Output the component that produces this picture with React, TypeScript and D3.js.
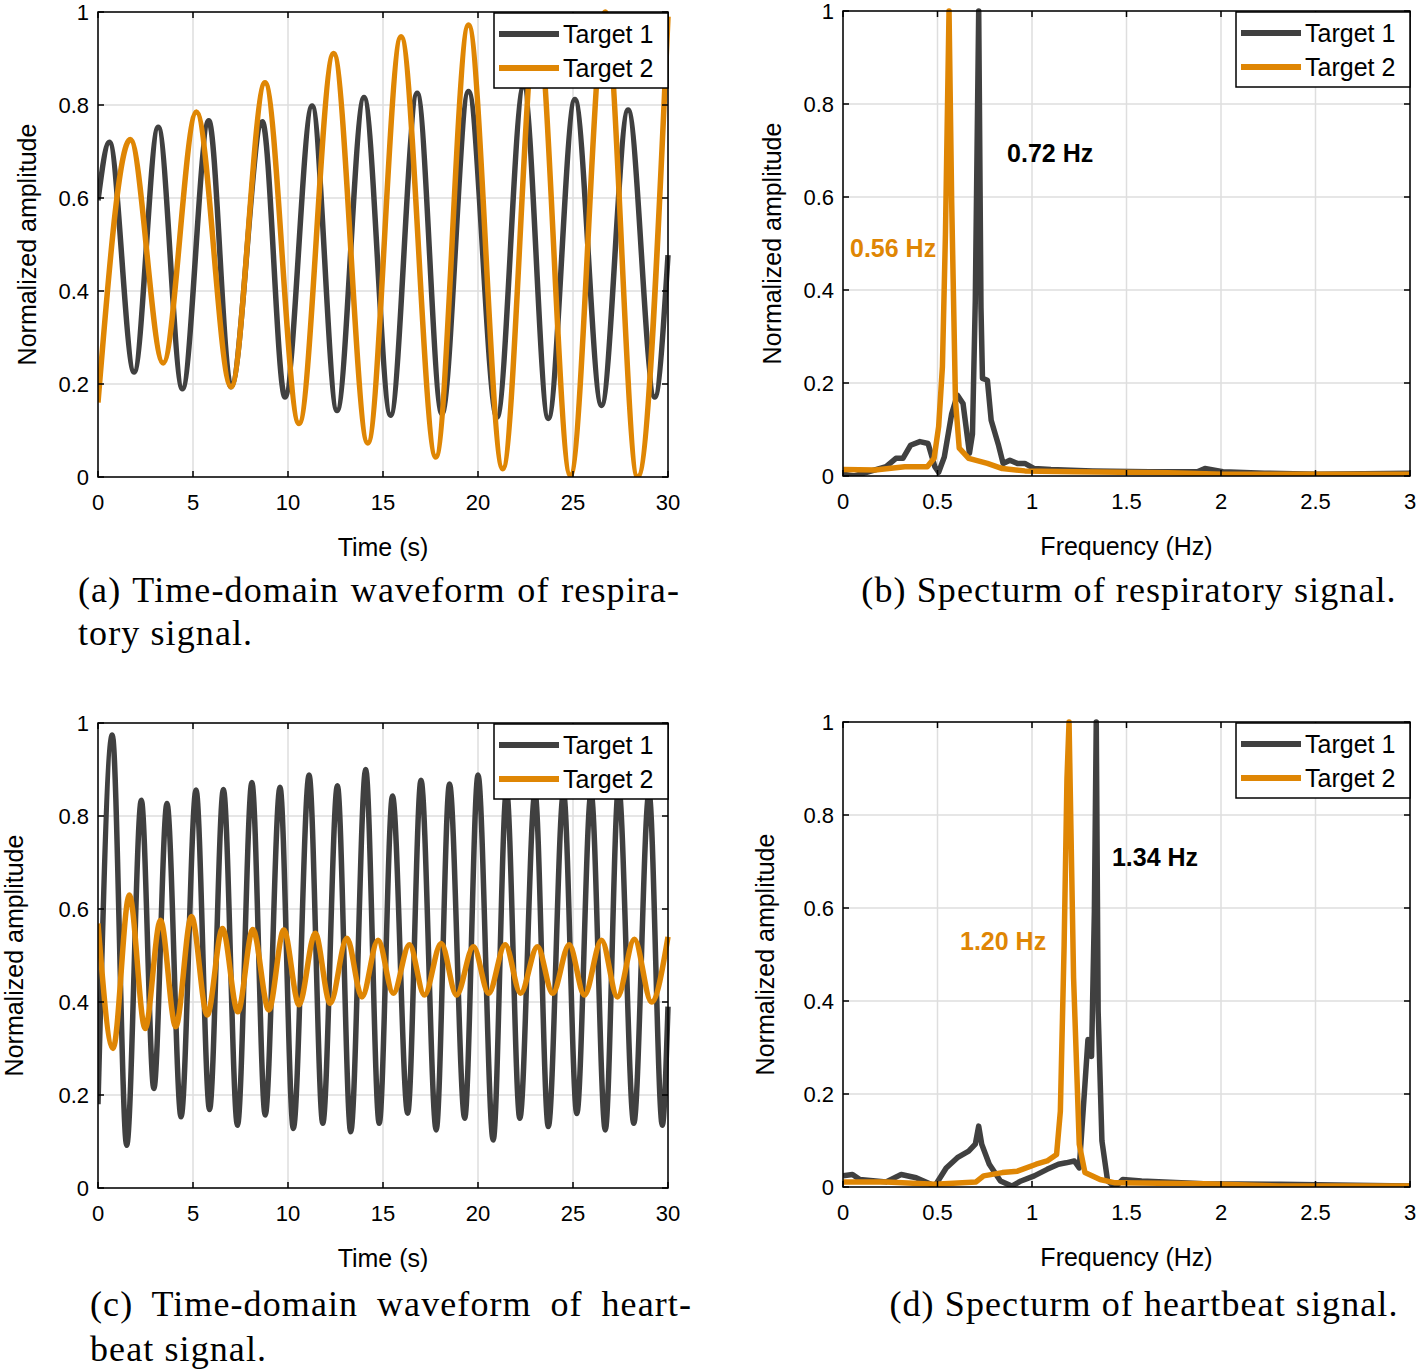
import * as d3 from "d3";
import { useLayoutEffect, useRef } from "react";

const W = 1425;
const H = 1372;

const seriesNames = ["Target 1", "Target 2"];
const seriesColors = ["#404040", "#df8604"];

const timeTicks = [0, 5, 10, 15, 20, 25, 30];
const freqTicks = [0, 0.5, 1, 1.5, 2, 2.5, 3];
const ampTicks = [0, 0.2, 0.4, 0.6, 0.8, 1];

// respiratory waveform, [time (s), amplitude] read at the turning points
const respWave1 = [
  [0, 0.595], [0.6, 0.72], [1.9, 0.226], [3.17, 0.752], [4.44, 0.19], [5.83, 0.766],
  [7.0, 0.194], [8.65, 0.764], [9.84, 0.172], [11.27, 0.798], [12.58, 0.143], [14.0, 0.816],
  [15.4, 0.133], [16.8, 0.825], [18.1, 0.136], [19.5, 0.829], [21.0, 0.129], [22.4, 0.84],
  [23.7, 0.126], [25.1, 0.812], [26.5, 0.154], [27.9, 0.789], [29.3, 0.172], [30, 0.477],
];
const respWave2 = [
  [0, 0.16], [1.7, 0.726], [3.43, 0.245], [5.18, 0.785], [7.0, 0.194], [8.79, 0.848],
  [10.58, 0.115], [12.4, 0.911], [14.2, 0.073], [15.95, 0.947], [17.78, 0.043], [19.5, 0.972],
  [21.3, 0.018], [23.1, 0.99], [24.86, 0.004], [26.7, 1.0], [28.4, 0.0], [30, 0.99],
];

// respiratory spectrum, [frequency (Hz), amplitude]
const respSpec1 = [
  [0, 0.004], [0.06, 0.0], [0.228, 0.02], [0.28, 0.038], [0.317, 0.038], [0.357, 0.066],
  [0.407, 0.074], [0.45, 0.07], [0.486, 0.02], [0.506, 0.008], [0.536, 0.041], [0.575, 0.134],
  [0.605, 0.174], [0.635, 0.156], [0.669, 0.049], [0.685, 0.09], [0.7, 0.378], [0.718, 1.0],
  [0.73, 0.363], [0.738, 0.21], [0.764, 0.206], [0.784, 0.12], [0.823, 0.066], [0.847, 0.027],
  [0.883, 0.034], [0.923, 0.027], [0.962, 0.027], [1.012, 0.016], [1.1, 0.014], [1.32, 0.011],
  [1.62, 0.009], [1.875, 0.009], [1.915, 0.016], [2.01, 0.009], [2.23, 0.006], [2.51, 0.004],
  [3.0, 0.006],
];
const respSpec2 = [
  [0, 0.014], [0.169, 0.013], [0.327, 0.02], [0.446, 0.02], [0.482, 0.038], [0.506, 0.106],
  [0.526, 0.235], [0.542, 0.52], [0.561, 1.0], [0.575, 0.59], [0.595, 0.163], [0.615, 0.06],
  [0.665, 0.038], [0.764, 0.027], [0.843, 0.016], [0.962, 0.011], [1.22, 0.009], [1.72, 0.007],
  [2.01, 0.004], [3.0, 0.004],
];

// heartbeat waveform
const heartWave1 = [
  [0, 0.18], [0.75, 0.974], [1.51, 0.092], [2.28, 0.834], [2.94, 0.214], [3.63, 0.827],
  [4.37, 0.153], [5.16, 0.856], [5.87, 0.169], [6.6, 0.857], [7.34, 0.135], [8.1, 0.872],
  [8.8, 0.157], [9.58, 0.862], [10.28, 0.128], [11.11, 0.888], [11.83, 0.139], [12.6, 0.865],
  [13.3, 0.121], [14.09, 0.9], [14.8, 0.139], [15.5, 0.843], [16.3, 0.161], [17.0, 0.877],
  [17.8, 0.125], [18.5, 0.869], [19.3, 0.15], [20.0, 0.888], [20.8, 0.103], [21.5, 0.856],
  [22.2, 0.15], [23.0, 0.85], [23.7, 0.132], [24.5, 0.85], [25.2, 0.16], [25.95, 0.85],
  [26.7, 0.125], [27.4, 0.863], [28.2, 0.139], [29.0, 0.85], [29.7, 0.135], [30, 0.39],
];
const heartWave2 = [
  [0, 0.569], [0.79, 0.3], [1.65, 0.63], [2.48, 0.343], [3.29, 0.576], [4.09, 0.347],
  [4.92, 0.584], [5.75, 0.372], [6.55, 0.558], [7.36, 0.379], [8.15, 0.556], [8.99, 0.383],
  [9.78, 0.555], [10.58, 0.394], [11.43, 0.548], [12.22, 0.397], [13.1, 0.537], [13.89, 0.411],
  [14.74, 0.533], [15.54, 0.419], [16.39, 0.523], [17.18, 0.415], [18.06, 0.526], [18.87, 0.415],
  [19.76, 0.519], [20.56, 0.419], [21.43, 0.523], [22.24, 0.419], [23.13, 0.519], [23.93, 0.419],
  [24.8, 0.523], [25.6, 0.415], [26.5, 0.533], [27.34, 0.411], [28.23, 0.535], [29.13, 0.4],
  [30, 0.54],
];

// heartbeat spectrum
const heartSpec1 = [
  [0, 0.024], [0.05, 0.027], [0.089, 0.016], [0.228, 0.011], [0.308, 0.027], [0.387, 0.02],
  [0.486, 0.002], [0.546, 0.041], [0.605, 0.063], [0.665, 0.077], [0.7, 0.092], [0.718, 0.131],
  [0.734, 0.092], [0.774, 0.049], [0.833, 0.013], [0.893, 0.002], [0.942, 0.013], [1.012, 0.024],
  [1.08, 0.038], [1.14, 0.049], [1.18, 0.052], [1.224, 0.056], [1.25, 0.041], [1.28, 0.22],
  [1.296, 0.317], [1.315, 0.281], [1.33, 0.592], [1.34, 1.0], [1.35, 0.378], [1.37, 0.099],
  [1.4, 0.013], [1.44, 0.0], [1.48, 0.016], [1.58, 0.013], [1.91, 0.007], [2.31, 0.006],
  [3.0, 0.002],
];
const heartSpec2 = [
  [0, 0.011], [0.228, 0.011], [0.486, 0.006], [0.704, 0.011], [0.744, 0.024], [0.843, 0.031],
  [0.923, 0.034], [1.022, 0.049], [1.08, 0.056], [1.13, 0.07], [1.15, 0.163], [1.17, 0.52],
  [1.185, 0.878], [1.196, 1.0], [1.206, 0.771], [1.22, 0.45], [1.25, 0.092], [1.28, 0.031],
  [1.36, 0.016], [1.44, 0.009], [1.91, 0.007], [2.31, 0.002], [3.0, 0.002],
];

const sans = "'Liberation Sans', Arial, Helvetica, sans-serif";
const serif = "'Liberation Serif', 'Times New Roman', serif";

type Pt = number[];
type Note = { text: string; at: Pt; color: string };

type PanelProps = {
  id: string;
  left: number;
  top: number;
  width: number;
  height: number;
  xDomain: number[];
  xTicks: number[];
  xLabel: string;
  data: Pt[][];
  smooth: boolean;
  yLabelGap: number;
  notes?: Note[];
};

const Panel = (p: PanelProps) => {
  const x = d3.scaleLinear().domain(p.xDomain).range([p.left, p.left + p.width]);
  const y = d3.scaleLinear().domain([0, 1]).range([p.top + p.height, p.top]);
  const line = d3
    .line<Pt>()
    .x((d) => x(d[0]))
    .y((d) => y(d[1]))
    .curve(p.smooth ? d3.curveMonotoneX : d3.curveLinear);

  const bottom = p.top + p.height;
  const right = p.left + p.width;
  const tick = 6;

  const legW = 174;
  const legH = 75;
  const legX = right - legW;
  const legY = p.top + 1;

  return (
    <g>
      <defs>
        <clipPath id={"clip-" + p.id}>
          <rect x={p.left} y={p.top - 3} width={p.width + 3} height={p.height + 3} />
        </clipPath>
      </defs>
      {/* grid */}
      {p.xTicks.map((t) => (
        <line key={"gx" + t} x1={x(t)} x2={x(t)} y1={p.top} y2={bottom} stroke="#dedede" strokeWidth={1.5} />
      ))}
      {ampTicks.map((t) => (
        <line key={"gy" + t} x1={p.left} x2={right} y1={y(t)} y2={y(t)} stroke="#dedede" strokeWidth={1.5} />
      ))}

      {/* series */}
      <g clipPath={`url(#clip-${p.id})`}>
        {p.data.map((s, i) => (
          <path key={i} d={line(s) || ""} fill="none" stroke={seriesColors[i]} strokeWidth={5.5} strokeLinejoin="round" />
        ))}
      </g>

      {/* box + ticks */}
      <rect x={p.left} y={p.top} width={p.width} height={p.height} fill="none" stroke="#000" strokeWidth={1.5} />
      {p.xTicks.map((t) => (
        <g key={"tx" + t}>
          <line x1={x(t)} x2={x(t)} y1={bottom} y2={bottom - tick} stroke="#000" strokeWidth={1.5} />
          <line x1={x(t)} x2={x(t)} y1={p.top} y2={p.top + tick} stroke="#000" strokeWidth={1.5} />
          <text x={x(t)} y={bottom + 33} textAnchor="middle" fontFamily={sans} fontSize={22}>
            {String(t)}
          </text>
        </g>
      ))}
      {ampTicks.map((t) => (
        <g key={"ty" + t}>
          <line x1={p.left} x2={p.left + tick} y1={y(t)} y2={y(t)} stroke="#000" strokeWidth={1.5} />
          <line x1={right} x2={right - tick} y1={y(t)} y2={y(t)} stroke="#000" strokeWidth={1.5} />
          <text x={p.left - 9} y={y(t) + 8} textAnchor="end" fontFamily={sans} fontSize={22}>
            {String(t)}
          </text>
        </g>
      ))}

      {/* axis labels */}
      <text x={(p.left + right) / 2} y={bottom + 79} textAnchor="middle" fontFamily={sans} fontSize={25}>
        {p.xLabel}
      </text>
      <text
        transform={`translate(${p.left - p.yLabelGap}, ${(p.top + bottom) / 2}) rotate(-90)`}
        textAnchor="middle"
        dominantBaseline="central"
        fontFamily={sans}
        fontSize={25}
      >
        Normalized amplitude
      </text>

      {/* peak notes */}
      {(p.notes || []).map((n) => (
        <text key={n.text} x={x(n.at[0])} y={y(n.at[1])} fontFamily={sans} fontSize={25} fontWeight="bold" fill={n.color}>
          {n.text}
        </text>
      ))}

      {/* legend */}
      <rect x={legX} y={legY} width={legW} height={legH} fill="#fff" stroke="#000" strokeWidth={1.5} />
      {seriesNames.map((name, i) => {
        const ry = legY + 21 + i * 34;
        return (
          <g key={name}>
            <line x1={legX + 5} x2={legX + 65} y1={ry} y2={ry} stroke={seriesColors[i]} strokeWidth={6} />
            <text x={legX + 69} y={ry + 9} fontFamily={sans} fontSize={25}>
              {name}
            </text>
          </g>
        );
      })}
    </g>
  );
};

const captions = [
  { text: "(a) Time-domain waveform of respira-", x: 78, y: 602, justify: 602 },
  { text: "tory signal.", x: 78, y: 645 },
  { text: "(b) Specturm of respiratory signal.", x: 1129, y: 602, anchor: "middle" },
  { text: "(c) Time-domain waveform of heart-", x: 90, y: 1316, justify: 602 },
  { text: "beat signal.", x: 90, y: 1361 },
  { text: "(d) Specturm of heartbeat signal.", x: 1144, y: 1316, anchor: "middle" },
];

const Captions = () => {
  const refs = useRef<(SVGTextElement | null)[]>([]);
  useLayoutEffect(() => {
    captions.forEach((c, i) => {
      const el = refs.current[i];
      if (!el || !c.justify) return;
      el.style.wordSpacing = "0px";
      const len = el.getComputedTextLength();
      const gaps = c.text.split(" ").length - 1;
      el.style.wordSpacing = `${(c.justify - len) / gaps}px`;
    });
  }, []);
  return (
    <g>
      {captions.map((c, i) => (
        <text
          key={c.text}
          ref={(el) => {
            refs.current[i] = el;
          }}
          x={c.x}
          y={c.y}
          textAnchor={c.anchor || "start"}
          fontFamily={serif}
          fontSize={36}
          letterSpacing={1.1}
        >
          {c.text}
        </text>
      ))}
    </g>
  );
};

const App = () => {
  return (
    <svg width={W} height={H} style={{ position: "absolute", left: 0, top: 0, background: "#fff" }}>
      <rect width={W} height={H} fill="#fff" />
      <Panel
        id="a" left={98} top={12} width={570} height={465}
        xDomain={[0, 30]} xTicks={timeTicks} xLabel="Time (s)"
        data={[respWave1, respWave2]} smooth yLabelGap={71}
      />
      <Panel
        id="b" left={843} top={11} width={567} height={465}
        xDomain={[0, 3]} xTicks={freqTicks} xLabel="Frequency (Hz)"
        data={[respSpec1, respSpec2]} smooth={false} yLabelGap={71}
        notes={[
          { text: "0.72 Hz", at: [0.868, 0.675], color: "#000" },
          { text: "0.56 Hz", at: [0.037, 0.471], color: seriesColors[1] },
        ]}
      />
      <Panel
        id="c" left={98} top={723} width={570} height={465}
        xDomain={[0, 30]} xTicks={timeTicks} xLabel="Time (s)"
        data={[heartWave1, heartWave2]} smooth yLabelGap={84}
      />
      <Panel
        id="d" left={843} top={722} width={567} height={465}
        xDomain={[0, 3]} xTicks={freqTicks} xLabel="Frequency (Hz)"
        data={[heartSpec1, heartSpec2]} smooth={false} yLabelGap={78}
        notes={[
          { text: "1.34 Hz", at: [1.423, 0.69], color: "#000" },
          { text: "1.20 Hz", at: [0.619, 0.51], color: seriesColors[1] },
        ]}
      />
      <Captions />
    </svg>
  );
};

export default App;
